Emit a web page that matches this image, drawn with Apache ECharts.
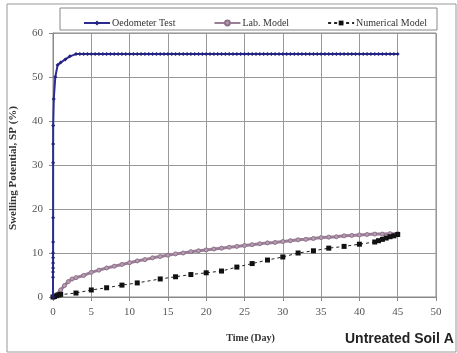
<!DOCTYPE html>
<html><head><meta charset="utf-8">
<script src="https://cdn.jsdelivr.net/npm/echarts@6/dist/echarts.min.js"></script>
<style>html,body{margin:0;padding:0;background:#fff}#c{width:457px;height:353px}</style>
</head><body><div id="c"></div>
<script>
const xTicks = [0,5,10,15,20,25,30,35,40,45,50];
const yTicks = [0,10,20,30,40,50,60];

const oedTime = [0,0.002,0.004,0.006,0.008,0.01,0.012,0.014,0.016,0.018,0.02,0.025,0.1,0.3,0.6,1,1.6,2.2,3,
  3.5,4,4.5,5,5.5,6,6.5,7,7.5,8,8.5,9,9.5,10,10.5,11,11.5,12,12.5,13,13.5,14,14.5,15,15.5,16,16.5,17,17.5,18,18.5,19,19.5,20,
  20.5,21,21.5,22,22.5,23,23.5,24,24.5,25,25.5,26,26.5,27,27.5,28,28.5,29,29.5,30,30.5,31,31.5,32,32.5,33,33.5,34,34.5,35,
  35.5,36,36.5,37,37.5,38,38.5,39,39.5,40,40.5,41,41.5,42,42.5,43,43.5,44,44.5,45];
const oedSP = [0,4.5,5.7,6.6,7.7,8.9,10,12.5,18,30.5,34.8,39,45,50,52.7,53.3,54,54.7,55.2,
  55.2,55.2,55.2,55.2,55.2,55.2,55.2,55.2,55.2,55.2,55.2,55.2,55.2,55.2,55.2,55.2,55.2,55.2,55.2,55.2,55.2,55.2,55.2,55.2,55.2,55.2,55.2,55.2,55.2,55.2,55.2,55.2,55.2,55.2,
  55.2,55.2,55.2,55.2,55.2,55.2,55.2,55.2,55.2,55.2,55.2,55.2,55.2,55.2,55.2,55.2,55.2,55.2,55.2,55.2,55.2,55.2,55.2,55.2,55.2,55.2,55.2,55.2,55.2,55.2,
  55.2,55.2,55.2,55.2,55.2,55.2,55.2,55.2,55.2,55.2,55.2,55.2,55.2,55.2,55.2,55.2,55.2,55.2,55.2,55.2];

const labTime = [0,0.5,1,1.5,2,2.5,3,4,5,6,7,8,9,10,11,12,13,14,15,16,17,18,19,20,21,22,23,24,25,26,27,28,29,30,31,32,33,34,35,36,37,38,39,40,41,42,43,44,45];
const labSP = [0,0.6,1.6,2.6,3.5,4.1,4.4,4.9,5.6,6.1,6.6,7.0,7.4,7.8,8.2,8.5,8.9,9.2,9.5,9.8,10.0,10.3,10.5,10.7,10.9,11.1,11.3,11.5,11.7,11.9,12.1,12.3,12.4,12.6,12.8,13.0,13.1,13.3,13.5,13.6,13.7,13.9,14.0,14.1,14.2,14.3,14.3,14.4,14.4];

const numTime = [0,0.2,0.5,0.8,1,3,5,7,9,11,14,16,18,20,22,24,26,28,30,32,34,36,38,40,42,42.5,43,43.5,44,44.5,45];
const numSP = [0,0.1,0.3,0.5,0.6,0.9,1.6,2.1,2.7,3.2,4.1,4.6,5.1,5.5,5.9,6.8,7.6,8.4,9.1,10,10.5,11.1,11.5,12,12.5,12.8,13.1,13.4,13.7,13.9,14.2];

const zip = (a,b)=>a.map((v,i)=>[v,b[i]]);
const serif = 'Liberation Serif';

const chart = echarts.init(document.getElementById('c'));
chart.setOption({
  animation:false,
  backgroundColor:'#fff',
  graphic:[
    {type:'rect', shape:{x:7,y:4,width:449,height:348}, style:{fill:'none', stroke:'#999', lineWidth:1}, z:-1},
    {type:'rect', shape:{x:60,y:8,width:377,height:22}, style:{fill:'#fff', stroke:'#888', lineWidth:1}, z:0},
    {type:'text', left:345, top:332, style:{text:'Untreated Soil A', font:'bold 14px "Liberation Sans"', fill:'#222'}, z:10}
  ],
  legend:{
    top:13, left:78, itemGap:38, itemWidth:26, itemHeight:6,
    textStyle:{fontFamily:serif, fontSize:10, color:'#333', padding:[0,0,0,-3]},
    data:['Oedometer Test','Lab. Model','Numerical Model'],
    z:5
  },
  grid:{left:53, right:21, top:33, bottom:56, show:true, borderColor:'#888', borderWidth:1},
  xAxis:{
    type:'value', min:0, max:50, interval:5,
    name:'Time (Day)', nameLocation:'middle', nameGap:36,
    nameTextStyle:{fontFamily:serif, fontWeight:'bold', fontSize:10, color:'#333', padding:[0,0,0,12]},
    axisLine:{lineStyle:{color:'#888'}},
    axisTick:{show:true, length:4, lineStyle:{color:'#888'}},
    axisLabel:{fontFamily:serif, fontSize:11, color:'#555', margin:10},
    splitLine:{show:true, lineStyle:{color:'#999', width:1}}
  },
  yAxis:{
    type:'value', min:0, max:60, interval:10,
    name:'Swelling Potential, SP (%)', nameLocation:'middle', nameGap:34,
    nameTextStyle:{fontFamily:serif, fontWeight:'bold', fontSize:11, color:'#333', padding:[0,0,0,-6]},
    axisLine:{show:true, lineStyle:{color:'#888'}},
    axisTick:{show:true, length:4, lineStyle:{color:'#888'}},
    axisLabel:{fontFamily:serif, fontSize:11, color:'#555', margin:10},
    splitLine:{show:true, lineStyle:{color:'#999', width:1}}
  },
  series:[
    {name:'Lab. Model', type:'line', data:zip(labTime,labSP), symbol:'circle', symbolSize:4,
      lineStyle:{color:'#9a7e96', width:3}, itemStyle:{color:'#b79db3', borderColor:'#8f7189', borderWidth:1}, z:2},
    {name:'Numerical Model', type:'line', data:zip(numTime,numSP), symbol:'rect', symbolSize:5,
      lineStyle:{color:'#222', width:1, type:[3,3]}, itemStyle:{color:'#111'}, z:3},
    {name:'Oedometer Test', type:'line', data:zip(oedTime,oedSP), symbol:'diamond', symbolSize:4,
      lineStyle:{color:'#2b2b92', width:2}, itemStyle:{color:'#23237e'}, z:4}
  ]
});
</script></body></html>
